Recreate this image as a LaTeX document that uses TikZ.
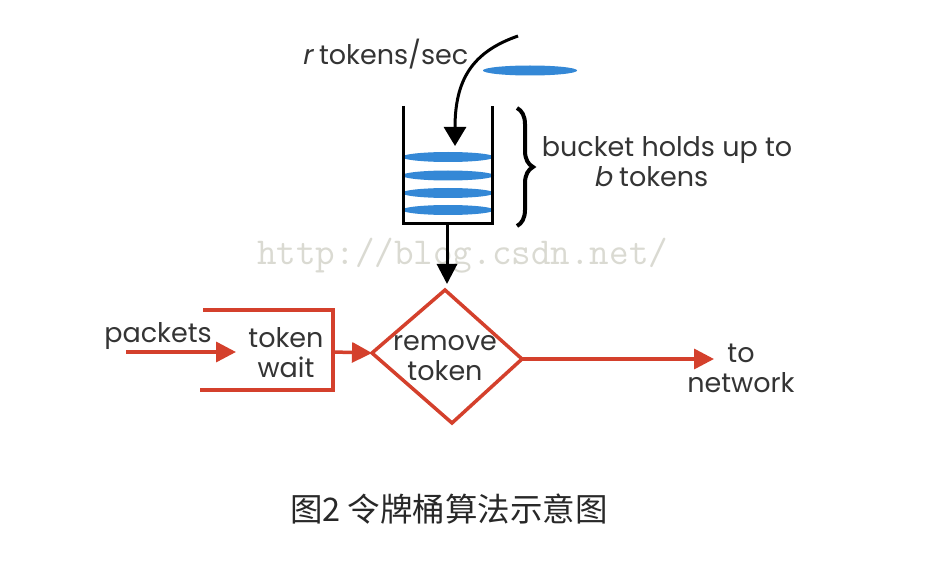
\documentclass[tikz,border=0pt]{standalone}
\usepackage{fontspec}
\setmainfont{Poppins}
\newfontfamily\itfont[FakeSlant=0.2]{Poppins}
\newfontfamily\cjk{Noto Sans CJK SC}
\usetikzlibrary{arrows.meta,decorations.pathreplacing}
\definecolor{tokblue}{RGB}{52,136,214}
\definecolor{arrred}{RGB}{212,64,44}
\definecolor{txt}{RGB}{52,52,52}
\definecolor{captxt}{RGB}{40,40,40}
\definecolor{wmgray}{RGB}{218,218,210}
\begin{document}
\begin{tikzpicture}[x=1pt,y=-1pt,
  lbl/.style={font=\fontsize{27}{30}\selectfont, text=txt, inner sep=0pt, anchor=base},
  token/.style={fill=tokblue, draw=none},
  blk/.style={draw=black, line width=3pt},
  redline/.style={draw=arrred, line width=3.5pt},
  redarrow/.style={redline, -{Triangle[width=20pt,length=20pt]}},
  blkarrow/.style={blk, -{Triangle[width=20pt,length=20pt]}}]
\useasboundingbox[fill=white] (0,0) rectangle (940,564);

% watermark
\node[font=\ttfamily\fontsize{38}{38}\selectfont, text=wmgray, anchor=base west, inner sep=0pt] (wm) at (257,265) {http://blog.csdn.net/};

% tokens
\fill[token] (530,70.5) ellipse [x radius=47, y radius=5];
\fill[token] (448,157) ellipse [x radius=46, y radius=5];
\fill[token] (448,175.5) ellipse [x radius=46, y radius=5];
\fill[token] (448,193) ellipse [x radius=46, y radius=5];
\fill[token] (448,210) ellipse [x radius=46, y radius=5];

% bucket
\coordinate (bTL) at (403,106);
\coordinate (bBL) at (403,224);
\coordinate (bBR) at (492,224);
\coordinate (bTR) at (492,106);
\coordinate (bBot) at (447,224);
\coordinate (drop) at (447,284);
\draw[blk, line join=miter] (bTL) -- (bBL) -- (bBR) -- (bTR);
\draw[blkarrow] (bBot) -- (drop);

% incoming tokens arrow
\coordinate (rs) at (518,36);
\coordinate (rt) at (455,146);
\draw[blk, -{Triangle[width=22pt,length=19pt]}] (rs) .. controls (472,52) and (455,80) .. (rt);
\node[lbl] (rate) at (385,65) {{\itfont r} tokens/sec};

% brace
\coordinate (brT) at (517,108);
\coordinate (brB) at (517,226);
\draw[line width=4pt, decorate, decoration={brace, amplitude=16pt}] (brT) -- (brB);
\node[lbl] (hold1) at (667,157) {bucket holds up to};
\node[lbl] (hold2) at (651,187) {{\itfont b} tokens};

% token wait bracket
\coordinate (wTL) at (203,310);
\coordinate (wTR) at (333,310);
\coordinate (wBR) at (333,390);
\coordinate (wBL) at (200,390);
\coordinate (wR) at (333,352);
\draw[redline, line join=miter] (wTL) -- (wTR) -- (wBR) -- (wBL);
\node[lbl] (tw1) at (286,347) {token};
\node[lbl] (tw2) at (286,377) {wait};

% packets
\coordinate (pin) at (126,352);
\coordinate (pout) at (236,352);
\draw[redarrow] (pin) -- (pout);
\node[lbl] (pk) at (158,342) {packets};

% diamond
\coordinate (dT) at (445,290);
\coordinate (dR) at (522,359);
\coordinate (dB) at (452,423);
\coordinate (dL) at (372,353);
\draw[redline, line join=miter] (dT) -- (dR) -- (dB) -- (dL) -- cycle;
\node[lbl] (rm1) at (445,350) {remove};
\node[lbl] (rm2) at (445,380) {token};
\draw[redarrow] (wR) -- (dL);

% to network
\coordinate (net) at (714,359);
\draw[redarrow] (dR) -- (net);
\node[lbl] (tn1) at (741,362) {to};
\node[lbl] (tn2) at (741,392) {network};

% caption
\node[font=\cjk\fontsize{32.5}{33}\selectfont, text=captxt, anchor=base, inner sep=0pt] (cap) at (449,521) {图2 令牌桶算法示意图};
\end{tikzpicture}
\end{document}
